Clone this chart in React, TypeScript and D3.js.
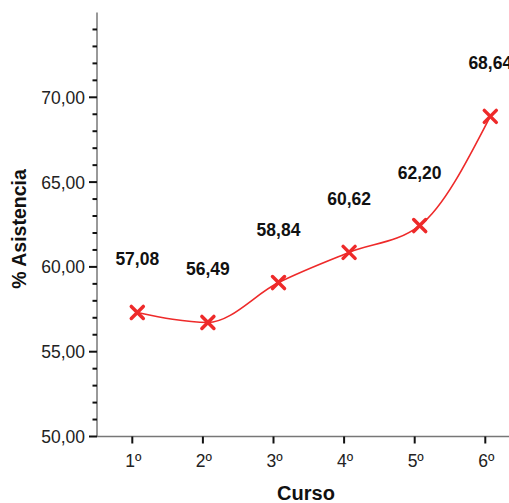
import React from "react";
import * as d3 from "d3";

const categories = ["1º", "2º", "3º", "4º", "5º", "6º"];
const values = [57.08, 56.49, 58.84, 60.62, 62.2, 68.64];
const valueLabels = ["57,08", "56,49", "58,84", "60,62", "62,20", "68,64"];
const yMajorTicks = [50, 55, 60, 65, 70];
const yMinorTicks = d3.range(50, 76, 1).filter((v) => v % 5 !== 0);

const W = 509;
const H = 503;
const FONT = "'Liberation Sans', Arial, sans-serif";

export default function App() {
  const x = d3.scaleBand<string>().domain(categories).range([97, 97 + 6 * 70.6]);
  const y = d3.scaleLinear().domain([50, 75]).range([436.5, 12.5]);
  const cx = (c: string) => (x(c) as number) + x.bandwidth() / 2;
  const axisY = y(50);

  const line = d3
    .line<number>()
    .x((_, i) => cx(categories[i]))
    .y((d) => y(d))
    .curve(d3.curveMonotoneX);

  const red = "#ee2a2a";

  return (
    <svg
      width={W}
      height={H}
      style={{ position: "absolute", left: 0, top: 0, background: "#fff" }}
      fontFamily={FONT}
    >
      {/* Y axis */}
      <line x1={97} x2={97} y1={y(75)} y2={axisY} stroke="#777" strokeWidth={1.5} />
      {yMinorTicks.map((v) => (
        <line key={"m" + v} x1={92.5} x2={97} y1={y(v)} y2={y(v)} stroke="#111" strokeWidth={2} />
      ))}
      {yMajorTicks.map((v) => (
        <g key={"M" + v}>
          <line x1={89} x2={97} y1={y(v)} y2={y(v)} stroke="#111" strokeWidth={2} />
          <text x={85} y={y(v) + 6.5} textAnchor="end" fontSize={17.5} fill="#222">
            {d3.format(".2f")(v).replace(".", ",")}
          </text>
        </g>
      ))}
      <text
        transform="translate(26, 229) rotate(-90)"
        textAnchor="middle"
        fontSize={19.5}
        fontWeight="bold"
        fill="#111"
      >
        % Asistencia
      </text>

      {/* X axis */}
      <line x1={97} x2={W + 20} y1={axisY} y2={axisY} stroke="#777" strokeWidth={1.5} />
      {categories.map((c) => (
        <g key={c}>
          <line x1={cx(c)} x2={cx(c)} y1={axisY} y2={axisY + 7} stroke="#111" strokeWidth={2} />
          <text x={cx(c) + 1} y={axisY + 30} textAnchor="middle" fontSize={17.5} fill="#222">
            {c}
          </text>
        </g>
      ))}
      <text x={306} y={500} textAnchor="middle" fontSize={20} fontWeight="bold" fill="#111">
        Curso
      </text>

      {/* line + markers (plot layer slightly offset as in the original) */}
      <g transform="translate(5,-4)">
        <path d={line(values) || ""} fill="none" stroke={red} strokeWidth={1.6} />
        {values.map((v, i) => {
          const px = cx(categories[i]);
          const py = y(v);
          const s = 6;
          return (
            <g key={i}>
              <path
                d={`M${px - s},${py - s}L${px + s},${py + s}M${px - s},${py + s}L${px + s},${py - s}`}
                stroke={red}
                strokeWidth={3.5}
                strokeLinecap="round"
              />
              <text
                x={px}
                y={py - 47}
                textAnchor="middle"
                fontSize={17.5}
                fontWeight="bold"
                fill="#111"
              >
                {valueLabels[i]}
              </text>
            </g>
          );
        })}
      </g>
    </svg>
  );
}
